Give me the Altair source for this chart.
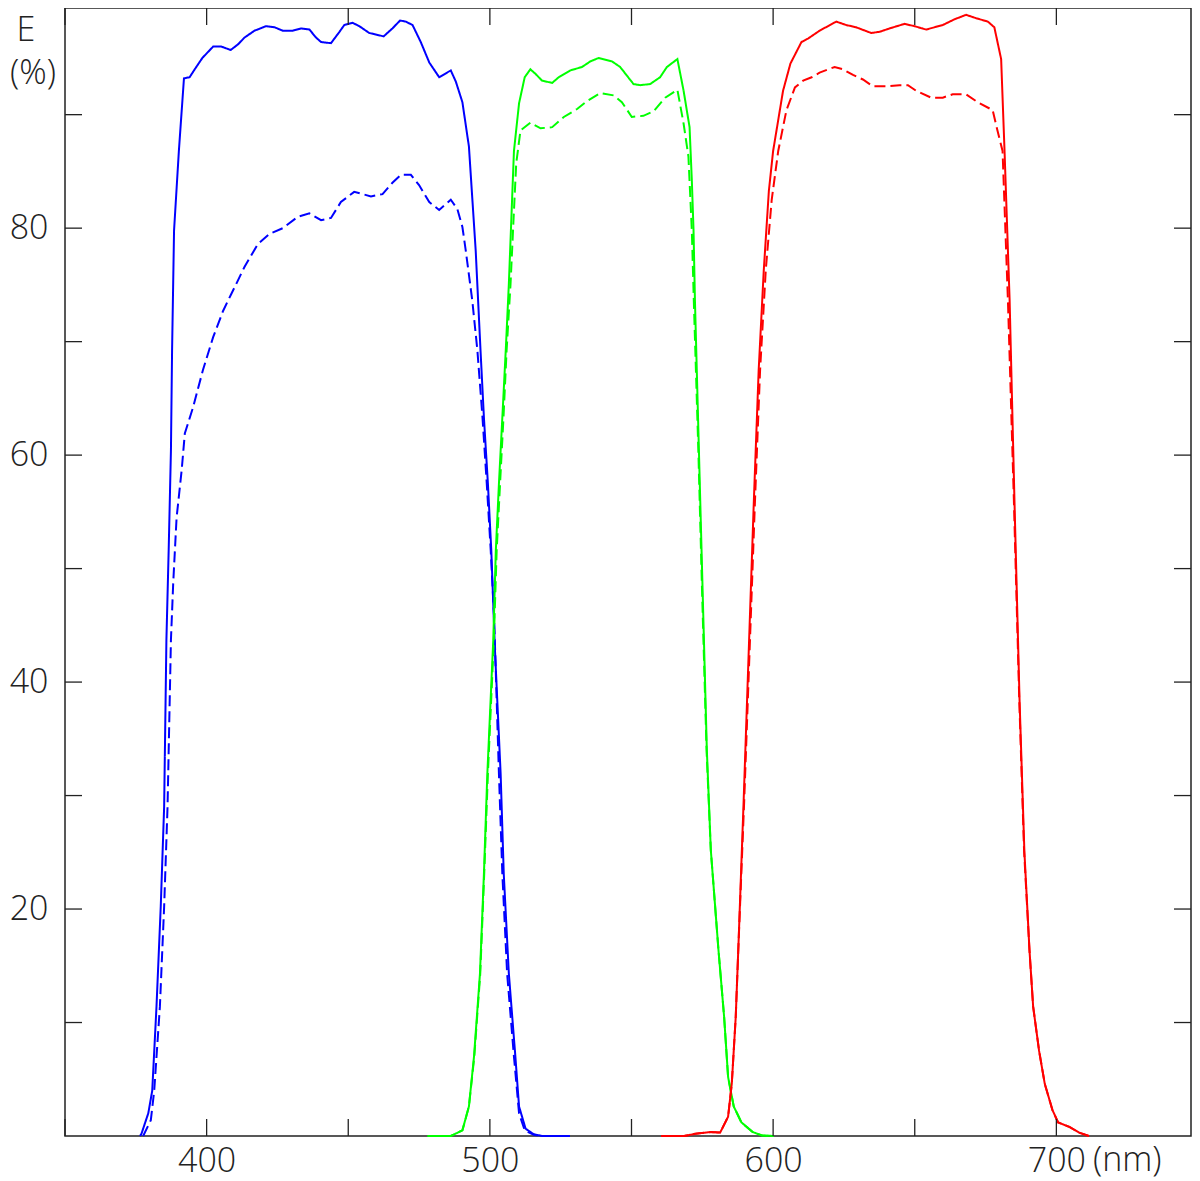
import altair as alt
import pandas as pd

# ---------------- data ----------------
blue_solid_wl = [376.5, 377.0, 379.4, 380.8, 382.3, 383.8, 385.0, 385.8, 386.6, 387.4, 387.8, 388.5,
                 390.2, 392.0, 394.0, 395.8, 398.5, 402.3, 405.2, 408.5, 411.1, 413.4, 416.9, 421.0,
                 424.0, 426.9, 430.4, 433.3, 436.3, 438.6, 440.4, 443.9, 446.9, 448.6, 451.5, 453.9,
                 457.4, 462.5, 465.6, 468.3, 470.3, 472.7, 475.6, 478.6, 482.1, 486.2, 488.0, 490.3,
                 492.6, 495.0, 496.7, 497.9, 499.3, 500.5, 501.8, 503.8, 504.9, 506.7, 509.0, 510.3,
                 512.6, 515.5, 518.5, 528.2]
blue_solid_e = [0.0, 0.2, 2.0, 4.0, 11.4, 20.2, 29.0, 43.7, 51.6, 60.4, 69.2, 79.8,
                86.8, 93.2, 93.3, 94.0, 95.0, 96.0, 96.0, 95.7, 96.2, 96.8, 97.4, 97.8,
                97.7, 97.4, 97.4, 97.6, 97.5, 96.8, 96.4, 96.3, 97.3, 97.9, 98.1, 97.8,
                97.2, 96.9, 97.6, 98.3, 98.2, 97.9, 96.4, 94.6, 93.3, 93.9, 92.9, 91.1,
                87.2, 78.0, 69.2, 63.3, 57.5, 51.6, 42.8, 31.9, 23.1, 14.3, 7.0, 2.6,
                0.65, 0.15, 0.0, 0.0]

blue_dashed_wl = [377.6, 380.3, 381.5, 383.5, 385.0, 386.2, 387.4, 388.2, 389.4, 391.2, 392.3, 395.2,
                  398.7, 402.3, 405.8, 408.7, 409.9, 413.4, 418.1, 422.2, 426.9, 432.2, 436.3, 440.4,
                  443.9, 447.4, 452.1, 458.0, 462.1, 465.6, 468.6, 472.1, 475.0, 478.6, 482.1, 486.2,
                  488.5, 490.3, 491.5, 493.8, 495.6, 497.4, 498.9, 500.3, 501.5, 503.2, 504.4, 506.1,
                  508.5, 510.3, 512.3, 515.5, 518.5, 528.2]
blue_dashed_e = [0.0, 1.4, 4.0, 11.4, 20.2, 29.0, 43.7, 48.7, 54.5, 58.7, 61.9, 64.2,
                 67.5, 70.4, 72.7, 74.2, 74.8, 76.6, 78.6, 79.5, 80.0, 81.0, 81.3, 80.7,
                 80.9, 82.3, 83.2, 82.8, 83.0, 84.0, 84.7, 84.7, 83.8, 82.3, 81.6, 82.5,
                 81.7, 80.1, 78.0, 73.6, 69.2, 63.3, 57.5, 51.6, 45.7, 31.9, 23.1, 14.3,
                 7.0, 2.0, 0.5, 0.1, 0.0, 0.0]

green_solid_wl = [478.0, 486.2, 490.3, 492.6, 494.4, 496.5, 497.9, 499.1, 501.2, 502.1, 503.2, 504.4,
                  505.6, 506.7, 508.5, 510.3, 512.3, 514.3, 516.1, 518.4, 522.0, 524.3, 528.4, 532.5,
                  535.5, 538.4, 543.1, 546.0, 550.7, 553.1, 556.6, 560.1, 562.5, 566.2, 568.4, 570.5,
                  571.3, 571.9, 572.4, 573.8, 575.2, 576.6, 578.0, 580.7, 582.7, 584.1, 586.1, 588.8,
                  592.8, 596.0, 600.2]
green_solid_e = [0.0, 0.0, 0.5, 2.6, 7.0, 14.3, 23.1, 31.9, 43.7, 51.6, 57.5, 63.3,
                 69.2, 75.1, 86.8, 91.0, 93.3, 94.0, 93.6, 93.0, 92.8, 93.3, 93.9, 94.2,
                 94.7, 95.0, 94.7, 94.2, 92.7, 92.6, 92.7, 93.3, 94.2, 94.9, 92.1, 88.9,
                 84.2, 79.8, 73.6, 60.4, 47.2, 34.0, 25.2, 16.4, 10.5, 5.2, 2.6, 1.2,
                 0.35, 0.05, 0.0]

green_dashed_wl = [478.0, 486.2, 490.3, 492.6, 494.5, 496.6, 498.0, 499.3, 501.4, 502.4, 503.6, 504.8,
                   505.9, 507.3, 508.3, 509.3, 510.8, 514.3, 517.9, 522.0, 526.1, 530.8, 534.3, 539.0,
                   543.7, 546.6, 550.1, 554.2, 557.8, 561.9, 566.2, 568.4, 570.1, 571.3, 572.0, 573.6,
                   575.0, 576.5, 578.0, 580.7, 582.7, 584.1, 586.1, 588.8, 592.8, 596.0, 600.2]
green_dashed_e = [0.0, 0.0, 0.5, 2.6, 7.0, 14.3, 23.1, 31.9, 43.7, 51.6, 57.5, 63.3,
                  69.2, 75.1, 80.5, 85.7, 88.6, 89.3, 88.8, 88.9, 89.8, 90.5, 91.2, 91.9,
                  91.7, 91.1, 89.8, 89.9, 90.3, 91.5, 92.2, 89.2, 86.3, 79.8, 73.6, 60.4,
                  47.2, 34.0, 25.2, 16.4, 10.5, 5.2, 2.6, 1.2, 0.35, 0.05, 0.0]

red_solid_wl = [560.5, 568.6, 572.6, 578.0, 581.3, 584.1, 585.4, 586.8, 587.7, 589.6, 591.4, 593.2,
                594.9, 596.7, 598.5, 600.0, 603.5, 606.1, 610.0, 612.3, 616.4, 622.3, 625.8, 629.3,
                634.6, 637.6, 641.1, 646.4, 649.9, 654.0, 659.9, 664.0, 668.1, 671.7, 675.8, 678.1,
                680.5, 681.7, 683.5, 685.2, 687.0, 688.7, 690.5, 691.8, 693.9, 695.9, 698.6, 700.6,
                704.6, 708.0, 711.5]
red_solid_e = [0.0, 0.0, 0.2, 0.35, 0.3, 1.7, 4.6, 10.5, 16.4, 29.6, 42.8, 56.0,
               67.5, 76.3, 83.3, 86.8, 92.1, 94.5, 96.4, 96.7, 97.4, 98.2, 97.9, 97.7,
               97.2, 97.3, 97.6, 98.0, 97.8, 97.5, 97.9, 98.4, 98.8, 98.5, 98.2, 97.7,
               94.9, 86.8, 73.6, 56.0, 38.4, 25.1, 16.4, 11.4, 7.5, 4.6, 2.3, 1.2,
               0.8, 0.3, 0.0]

red_dashed_wl = [560.5, 568.6, 572.6, 578.0, 581.3, 584.1, 585.4, 586.8, 587.7, 589.8, 591.7, 593.6,
                 595.4, 597.4, 599.5, 601.8, 604.7, 607.7, 610.6, 613.6, 616.4, 621.7, 624.6, 628.2,
                 631.7, 635.2, 639.9, 644.6, 647.6, 650.5, 655.8, 659.9, 663.4, 668.1, 672.2, 677.5,
                 679.2, 681.0, 682.9, 685.0, 686.9, 688.6, 690.5, 691.8, 693.9, 695.9, 698.6, 700.6,
                 704.6, 708.0, 711.5]
red_dashed_e = [0.0, 0.0, 0.2, 0.35, 0.3, 1.7, 4.6, 10.5, 16.4, 29.6, 42.8, 56.0,
                67.5, 76.3, 82.5, 86.8, 90.4, 92.4, 93.0, 93.3, 93.7, 94.2, 94.0, 93.5,
                93.1, 92.5, 92.5, 92.6, 92.6, 92.1, 91.5, 91.5, 91.8, 91.8, 91.1, 90.4,
                88.6, 86.8, 73.6, 56.0, 38.4, 25.1, 16.4, 11.4, 7.5, 4.6, 2.3, 1.2,
                0.8, 0.3, 0.0]

x_label_values = [400, 500, 600, 700]
y_label_values = [20, 40, 60, 80]
x_tick_values = [350, 400, 450, 500, 550, 600, 650, 700]
y_tick_values = [10, 20, 30, 40, 50, 60, 70, 80, 90]
y_title_top = ["E"]
y_title_unit = ["(%)"]
x_unit_label = ["(nm)"]

# ---------------- assemble ----------------
series = [
    ("blue", "solid", blue_solid_wl, blue_solid_e),
    ("blue", "dashed", blue_dashed_wl, blue_dashed_e),
    ("green", "solid", green_solid_wl, green_solid_e),
    ("green", "dashed", green_dashed_wl, green_dashed_e),
    ("red", "solid", red_solid_wl, red_solid_e),
    ("red", "dashed", red_dashed_wl, red_dashed_e),
]
frames = []
for band, kind, wl, e in series:
    frames.append(pd.DataFrame({"wl": wl, "e": e, "band": band, "kind": kind,
                                "sid": band + "_" + kind}))
df = pd.concat(frames, ignore_index=True)

W = 1126          # plot width (svg must stay within 1184 px)
H = 1128
PX_PER_NM = 2.8325
TICK = 17
FONT = "Open Sans"
FS = 34
INK = "#222222"
XLAB_BASE = 35    # label baseline distance below the frame

xscale = alt.Scale(domain=[350, 350 + W / PX_PER_NM], nice=False, zero=False)
yscale = alt.Scale(domain=[0, 99.4], nice=False, zero=True)

axis_common = dict(ticks=False, tickSize=0, domain=False, grid=False,
                   labelFont=FONT, labelFontSize=FS, labelFontWeight=300,
                   labelColor=INK, title=None, labelOverlap=False, labelFlush=False)

lines = alt.Chart(df).mark_line(strokeWidth=2).encode(
    x=alt.X("wl:Q", scale=xscale,
            axis=alt.Axis(values=x_label_values, labelPadding=XLAB_BASE,
                          labelBaseline="alphabetic", **axis_common)),
    y=alt.Y("e:Q", scale=yscale,
            axis=alt.Axis(values=y_label_values, labelPadding=17, **axis_common)),
    color=alt.Color("band:N", scale=alt.Scale(domain=["blue", "green", "red"],
                                              range=["#0000ff", "#00ff00", "#ff0000"]),
                    legend=None),
    strokeDash=alt.StrokeDash("kind:N", scale=alt.Scale(domain=["solid", "dashed"],
                                                        range=[[1, 0], [11, 5]]),
                              legend=None),
    detail="sid:N",
)

xt = pd.DataFrame({"v": x_tick_values})
yt = pd.DataFrame({"v": y_tick_values})

x_ticks_bottom = alt.Chart(xt).mark_rule(color=INK, strokeWidth=1.3).encode(
    x=alt.X("v:Q", scale=xscale), y=alt.value(H), y2=alt.value(H - TICK))
x_ticks_top = alt.Chart(xt).mark_rule(color=INK, strokeWidth=1.3).encode(
    x=alt.X("v:Q", scale=xscale), y=alt.value(0), y2=alt.value(TICK))
y_ticks_left = alt.Chart(yt).mark_rule(color=INK, strokeWidth=1.3).encode(
    y=alt.Y("v:Q", scale=yscale), x=alt.value(0), x2=alt.value(TICK))
y_ticks_right = alt.Chart(yt).mark_rule(color=INK, strokeWidth=1.3).encode(
    y=alt.Y("v:Q", scale=yscale), x=alt.value(W), x2=alt.value(W - TICK))

txt = dict(font=FONT, fontSize=FS, fontWeight=300, color=INK, baseline="middle")

ytitle = alt.Chart(pd.DataFrame({"t": y_title_top})).mark_text(align="center", **txt).encode(
    text="t:N", x=alt.value(-39), y=alt.value(23))

ytitle2 = alt.Chart(pd.DataFrame({"t": y_title_unit})).mark_text(align="center", **txt).encode(
    text="t:N", x=alt.value(-32), y=alt.value(66))

xunit = alt.Chart(pd.DataFrame({"t": x_unit_label})).mark_text(
    font=FONT, fontSize=FS, fontWeight=300, color=INK, align="left", baseline="alphabetic"
).encode(text="t:N", x=alt.value(1028), y=alt.value(H + XLAB_BASE))

chart = alt.layer(
    lines, x_ticks_bottom, x_ticks_top, y_ticks_left, y_ticks_right, ytitle, ytitle2, xunit
).properties(
    width=W, height=H,
    autosize=alt.AutoSizeParams(type="none"),
    padding={"left": 57, "top": 0, "right": 1, "bottom": 45},
).configure_view(stroke=INK, strokeWidth=1.5)

chart.save("out.html", embed_options={"renderer": "svg", "actions": False})
